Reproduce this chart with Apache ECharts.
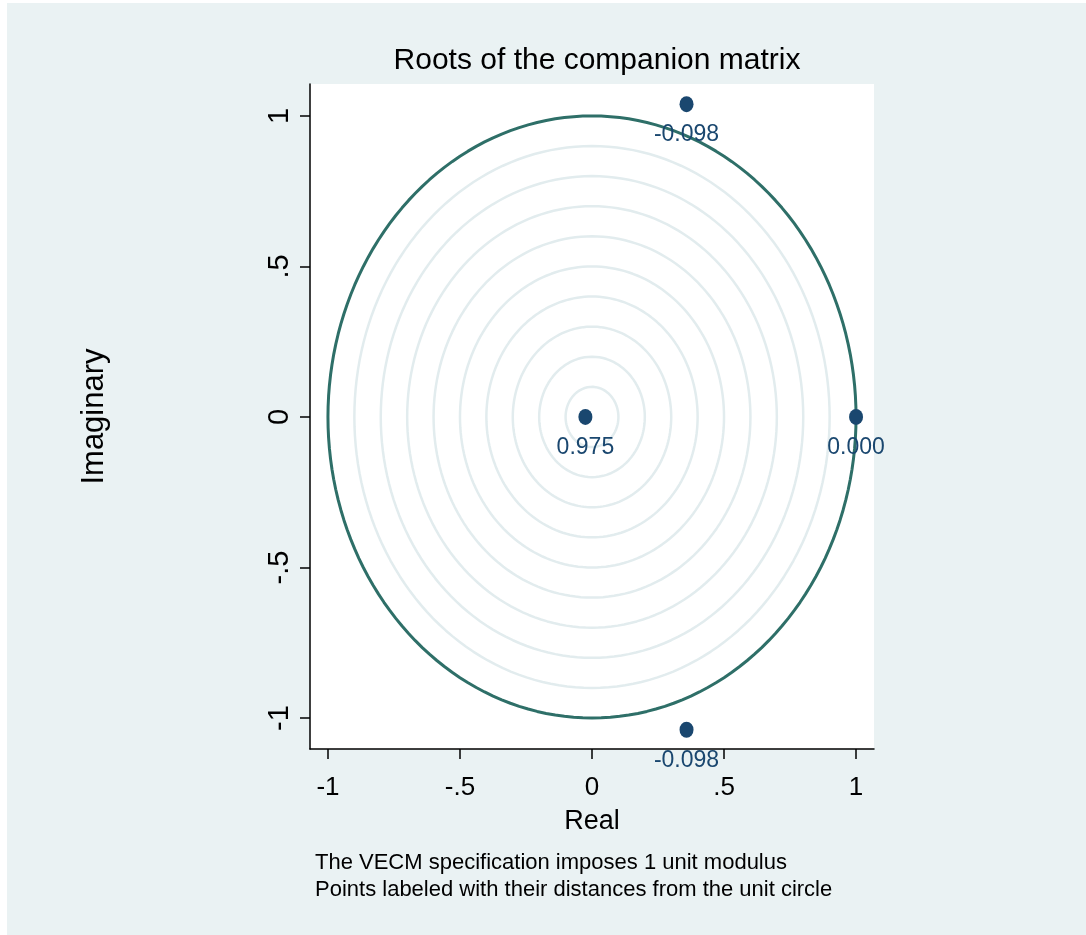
<!DOCTYPE html>
<html>
<head>
<meta charset="utf-8">
<script src="https://cdn.jsdelivr.net/npm/echarts@6/dist/echarts.min.js"></script>
<style>
html,body{margin:0;padding:0;background:#fff;}
#chart{width:1086px;height:935px;}
</style>
</head>
<body>
<div id="chart"></div>
<script>
// ---- data ----
const rootsReal = [-0.025, 1.0, 0.358, 0.358];
const rootsImag = [0, 0, 1.039, -1.039];
const rootLabels = ['0.975', '0.000', '-0.098', '-0.098'];
const gridRadii = [0.1, 0.2, 0.3, 0.4, 0.5, 0.6, 0.7, 0.8, 0.9];
const unitRadius = 1;
const xTickValues = [-1, -0.5, 0, 0.5, 1];
const xTickLabels = ['-1', '-.5', '0', '.5', '1'];
const yTickValues = [-1, -0.5, 0, 0.5, 1];
const yTickLabels = ['-1', '-.5', '0', '.5', '1'];

const FONT = '"Liberation Sans", Arial, Helvetica, sans-serif';

function circlePts(r) {
  const pts = [];
  for (let a = 0; a <= 360; a += 2) {
    const t = a * Math.PI / 180;
    pts.push([r * Math.cos(t), r * Math.sin(t)]);
  }
  return pts;
}
function labelFor(values, labels) {
  return function (v) {
    for (let i = 0; i < values.length; i++) {
      if (Math.abs(values[i] - v) < 1e-9) return labels[i];
    }
    return '';
  };
}

const series = [];
gridRadii.forEach(function (r) {
  series.push({
    type: 'line', data: circlePts(r), showSymbol: false, silent: true,
    lineStyle: { color: '#E2ECEE', width: 2.5 }, z: 1, clip: false
  });
});
series.push({
  type: 'line', data: circlePts(unitRadius), showSymbol: false, silent: true,
  lineStyle: { color: '#2E6F68', width: 3 }, z: 2, clip: false
});
series.push({
  type: 'scatter',
  data: rootsReal.map(function (x, i) { return { value: [x, rootsImag[i]], name: rootLabels[i] }; }),
  symbol: 'circle', symbolSize: [14, 16],
  itemStyle: { color: '#1A476F', opacity: 1 },
  label: {
    show: true, position: 'bottom', distance: 11,
    formatter: function (p) { return p.name; },
    color: '#1A476F', fontSize: 23, fontFamily: FONT, opacity: 1
  },
  z: 3, clip: false
});

const chart = echarts.init(document.getElementById('chart'), null, { renderer: 'canvas' });
chart.setOption({
  animation: false,
  backgroundColor: '#ffffff',
  graphic: [{
    type: 'rect', z: -10, silent: true,
    shape: { x: 7, y: 3, width: 1079, height: 932 },
    style: { fill: '#EAF2F3' }
  }, {
    type: 'text', left: 315, top: 849, silent: true,
    style: {
      text: 'The VECM specification imposes 1 unit modulus\nPoints labeled with their distances from the unit circle',
      fontSize: 22, lineHeight: 27, fontFamily: FONT, fill: '#000'
    }
  }],
  title: {
    text: 'Roots of the companion matrix',
    left: 592, top: 41, textAlign: 'center',
    textStyle: { fontSize: 30, fontWeight: 'normal', color: '#000', fontFamily: FONT }
  },
  grid: {
    left: 310, right: 212, top: 84, bottom: 186,
    show: true, backgroundColor: '#ffffff', borderWidth: 0
  },
  xAxis: {
    type: 'value', min: -1.068, max: 1.068,
    name: 'Real', nameLocation: 'middle', nameGap: 59,
    nameTextStyle: { fontSize: 27, color: '#000', fontFamily: FONT },
    axisLine: { show: true, onZero: false, lineStyle: { color: '#000', width: 1.5 } },
    axisTick: { show: true, length: 10, customValues: xTickValues, lineStyle: { color: '#000', width: 1.5 } },
    axisLabel: {
      customValues: xTickValues, formatter: labelFor(xTickValues, xTickLabels),
      margin: 26, fontSize: 26, color: '#000', fontFamily: FONT
    },
    splitLine: { show: false }
  },
  yAxis: {
    type: 'value', min: -1.103, max: 1.106,
    name: 'Imaginary', nameLocation: 'middle', nameGap: 200, nameRotate: 90,
    nameTextStyle: { fontSize: 31, color: '#000', fontFamily: FONT },
    axisLine: { show: true, onZero: false, lineStyle: { color: '#000', width: 1.5 } },
    axisTick: { show: true, length: 10, customValues: yTickValues, lineStyle: { color: '#000', width: 1.5 } },
    axisLabel: {
      customValues: yTickValues, formatter: labelFor(yTickValues, yTickLabels),
      rotate: 90, margin: 16, fontSize: 29, color: '#000', fontFamily: FONT
    },
    splitLine: { show: false }
  },
  series: series
});
</script>
</body>
</html>
